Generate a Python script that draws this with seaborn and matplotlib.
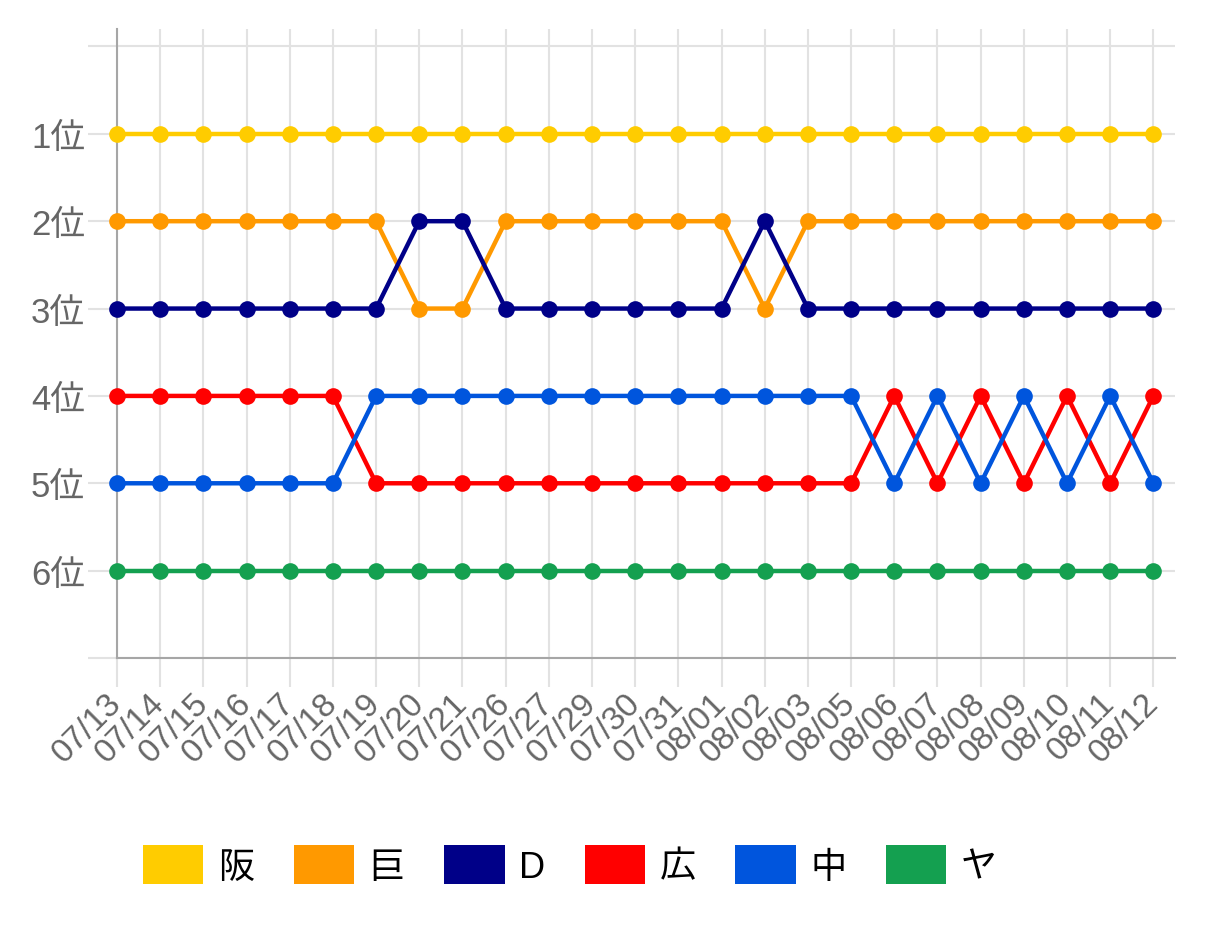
import pandas as pd
import matplotlib.pyplot as plt
import seaborn as sns
from matplotlib.patches import Patch

dates = ["07/13", "07/14", "07/15", "07/16", "07/17", "07/18", "07/19", "07/20",
         "07/21", "07/26", "07/27", "07/29", "07/30", "07/31", "08/01", "08/02",
         "08/03", "08/05", "08/06", "08/07", "08/08", "08/09", "08/10", "08/11",
         "08/12"]
teams = ["阪", "巨", "D", "広", "中", "ヤ"]
rank_han = [1] * 25
rank_kyo = [2, 2, 2, 2, 2, 2, 2, 3, 3, 2, 2, 2, 2, 2, 2, 3, 2, 2, 2, 2, 2, 2, 2, 2, 2]
rank_d = [3, 3, 3, 3, 3, 3, 3, 2, 2, 3, 3, 3, 3, 3, 3, 2, 3, 3, 3, 3, 3, 3, 3, 3, 3]
rank_hiro = [4, 4, 4, 4, 4, 4, 5, 5, 5, 5, 5, 5, 5, 5, 5, 5, 5, 5, 4, 5, 4, 5, 4, 5, 4]
rank_chu = [5, 5, 5, 5, 5, 5, 4, 4, 4, 4, 4, 4, 4, 4, 4, 4, 4, 4, 5, 4, 5, 4, 5, 4, 5]
rank_ya = [6] * 25
colors = ["#FFCC00", "#FF9900", "#000088", "#FF0000", "#0055DD", "#14A050"]
ytick_labels = ["1位", "2位", "3位", "4位", "5位", "6位"]

ranks = [rank_han, rank_kyo, rank_d, rank_hiro, rank_chu, rank_ya]
df = pd.concat(
    [pd.DataFrame({"date": dates, "team": t, "rank": r}) for t, r in zip(teams, ranks)],
    ignore_index=True,
)

sns.set_style("white")
plt.rcParams["font.family"] = ["Liberation Sans", "Noto Sans CJK JP", "DejaVu Sans"]

fig = plt.figure(figsize=(12.06, 9.45), dpi=100)
ax = fig.add_axes([117 / 1206, 1 - 659 / 945, (1175 - 117) / 1206, (659 - 30) / 945])

grid_c = "#e2e2e2"
axis_c = "#a6a6a6"

sns.lineplot(data=df, x="date", y="rank", hue="team", hue_order=teams,
             palette=colors, sort=False, marker="o", markersize=12,
             markeredgewidth=0, linewidth=3.2, legend=False, ax=ax, clip_on=False,
             zorder=3)

ax.set_xlim(0, 24.5)
ax.set_ylim(7, -0.2)
ax.set_yticks(range(0, 8))
ax.set_yticklabels([""] + ytick_labels + [""])
ax.set_xticks(range(len(dates)))
ax.set_xticklabels(dates, rotation=45, ha="right", va="center",
                   rotation_mode="anchor")
ax.set_xlabel("")
ax.set_ylabel("")

ax.grid(True, color=grid_c, linewidth=1.5, zorder=0)
ax.set_axisbelow(True)
ax.tick_params(axis="both", length=21, width=1.5, color=grid_c,
               labelcolor="#666666", bottom=True, left=True, direction="out")
ax.tick_params(axis="y", pad=2, labelsize=25)
ax.tick_params(axis="x", pad=8, labelsize=24)
ax.xaxis.get_major_ticks()[0].tick1line.set_color(axis_c)
ax.yaxis.get_major_ticks()[7].tick1line.set_color(axis_c)

for side in ["top", "right"]:
    ax.spines[side].set_visible(False)
for side in ["left", "bottom"]:
    ax.spines[side].set_color(axis_c)
    ax.spines[side].set_linewidth(1.5)

handles = [Patch(facecolor=c, edgecolor="none", label=t) for t, c in zip(teams, colors)]
fig.legend(handles=handles, loc="center", bbox_to_anchor=(570 / 1206, 1 - 866 / 945),
           ncol=6, frameon=False, fontsize=26, handlelength=1.67, handleheight=1.25,
           handletextpad=0.4, columnspacing=1.1, labelcolor="black")

fig.savefig("out.png", dpi=100)
